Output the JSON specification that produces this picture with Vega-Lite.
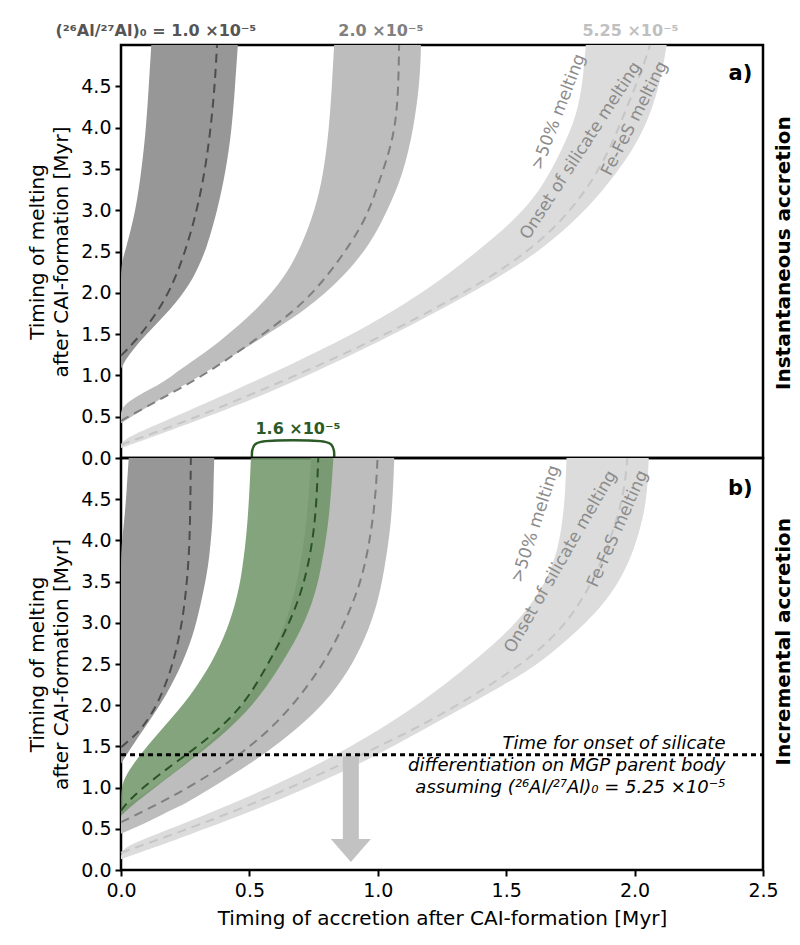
{
  "$schema": "https://vega.github.io/schema/vega-lite/v6.json",
  "padding": {"left": 26, "top": 21, "right": 5, "bottom": 5},
  "spacing": 0,
  "bounds": "flush",
  "config": {
    "font": "DejaVu Sans",
    "view": {"stroke": "black", "strokeWidth": 2.5},
    "axis": {"labelFontSize": 19, "labelColor": "black", "tickColor": "black", "tickSize": 6, "tickWidth": 2, "domain": false, "grid": false, "titleFontSize": 20, "titleFontWeight": "normal", "titleColor": "black", "labelPadding": 4, "labelFlush": false, "labelOverlap": false},
    "concat": {"spacing": 0}
  },
  "datasets": {
    "bands": [
      {"p":"a","s":"dark","y":1.08,"x":0,"x2":0},
      {"p":"a","s":"dark","y":1.24,"x":0,"x2":0.026},
      {"p":"a","s":"dark","y":1.52,"x":0,"x2":0.104},
      {"p":"a","s":"dark","y":1.80,"x":0,"x2":0.195},
      {"p":"a","s":"dark","y":2.12,"x":0,"x2":0.272},
      {"p":"a","s":"dark","y":2.34,"x":0,"x2":0.305},
      {"p":"a","s":"dark","y":2.52,"x":0.018,"x2":0.331},
      {"p":"a","s":"dark","y":3.0,"x":0.058,"x2":0.376},
      {"p":"a","s":"dark","y":3.49,"x":0.080,"x2":0.409},
      {"p":"a","s":"dark","y":3.97,"x":0.097,"x2":0.431},
      {"p":"a","s":"dark","y":4.49,"x":0.108,"x2":0.444},
      {"p":"a","s":"dark","y":5.0,"x":0.118,"x2":0.455},

      {"p":"a","s":"mid","y":0.42,"x":0,"x2":0},
      {"p":"a","s":"mid","y":0.5,"x":0,"x2":0.04},
      {"p":"a","s":"mid","y":0.65,"x":0,"x2":0.12},
      {"p":"a","s":"mid","y":0.875,"x":0.143,"x2":0.24},
      {"p":"a","s":"mid","y":1.0,"x":0.2,"x2":0.31},
      {"p":"a","s":"mid","y":1.16,"x":0.272,"x2":0.395},
      {"p":"a","s":"mid","y":1.40,"x":0.382,"x2":0.52},
      {"p":"a","s":"mid","y":1.80,"x":0.532,"x2":0.726},
      {"p":"a","s":"mid","y":2.20,"x":0.642,"x2":0.869},
      {"p":"a","s":"mid","y":2.60,"x":0.707,"x2":0.973},
      {"p":"a","s":"mid","y":3.0,"x":0.755,"x2":1.038},
      {"p":"a","s":"mid","y":3.41,"x":0.787,"x2":1.096},
      {"p":"a","s":"mid","y":4.0,"x":0.811,"x2":1.141},
      {"p":"a","s":"mid","y":4.6,"x":0.823,"x2":1.165},
      {"p":"a","s":"mid","y":5.0,"x":0.830,"x2":1.168},

      {"p":"a","s":"light","y":0.12,"x":0,"x2":0},
      {"p":"a","s":"light","y":0.22,"x":0,"x2":0.09},
      {"p":"a","s":"light","y":0.40,"x":0.136,"x2":0.25},
      {"p":"a","s":"light","y":0.69,"x":0.35,"x2":0.5},
      {"p":"a","s":"light","y":1.03,"x":0.592,"x2":0.75},
      {"p":"a","s":"light","y":1.40,"x":0.842,"x2":1.0},
      {"p":"a","s":"light","y":1.80,"x":1.077,"x2":1.25},
      {"p":"a","s":"light","y":2.24,"x":1.282,"x2":1.5},
      {"p":"a","s":"light","y":2.50,"x":1.385,"x2":1.625},
      {"p":"a","s":"light","y":2.82,"x":1.512,"x2":1.75},
      {"p":"a","s":"light","y":3.22,"x":1.632,"x2":1.875},
      {"p":"a","s":"light","y":3.75,"x":1.72,"x2":2.0},
      {"p":"a","s":"light","y":4.15,"x":1.775,"x2":2.06},
      {"p":"a","s":"light","y":4.55,"x":1.798,"x2":2.1},
      {"p":"a","s":"light","y":5.0,"x":1.81,"x2":2.125},

      {"p":"b","s":"dark","y":1.29,"x":0,"x2":0},
      {"p":"b","s":"dark","y":1.61,"x":0,"x2":0.065},
      {"p":"b","s":"dark","y":2.01,"x":0,"x2":0.156},
      {"p":"b","s":"dark","y":2.42,"x":0,"x2":0.227},
      {"p":"b","s":"dark","y":2.82,"x":0,"x2":0.279},
      {"p":"b","s":"dark","y":3.23,"x":0,"x2":0.311},
      {"p":"b","s":"dark","y":3.63,"x":0,"x2":0.337},
      {"p":"b","s":"dark","y":3.9,"x":0,"x2":0.347},
      {"p":"b","s":"dark","y":4.24,"x":0.013,"x2":0.357},
      {"p":"b","s":"dark","y":4.6,"x":0.022,"x2":0.36},
      {"p":"b","s":"dark","y":5.0,"x":0.03,"x2":0.363},

      {"p":"b","s":"mid","y":0.44,"x":0,"x2":0},
      {"p":"b","s":"mid","y":0.60,"x":0,"x2":0.117},
      {"p":"b","s":"mid","y":0.75,"x":0,"x2":0.21},
      {"p":"b","s":"mid","y":0.80,"x":0.027,"x2":0.246},
      {"p":"b","s":"mid","y":0.9,"x":0.08,"x2":0.30},
      {"p":"b","s":"mid","y":1.21,"x":0.22,"x2":0.467},
      {"p":"b","s":"mid","y":1.61,"x":0.37,"x2":0.649},
      {"p":"b","s":"mid","y":2.01,"x":0.48,"x2":0.791},
      {"p":"b","s":"mid","y":2.42,"x":0.56,"x2":0.888},
      {"p":"b","s":"mid","y":2.82,"x":0.62,"x2":0.953},
      {"p":"b","s":"mid","y":3.23,"x":0.665,"x2":0.999},
      {"p":"b","s":"mid","y":3.63,"x":0.695,"x2":1.025},
      {"p":"b","s":"mid","y":4.24,"x":0.725,"x2":1.055},
      {"p":"b","s":"mid","y":5.0,"x":0.74,"x2":1.064},

      {"p":"b","s":"green","y":0.66,"x":0,"x2":0},
      {"p":"b","s":"green","y":0.84,"x":0,"x2":0.065},
      {"p":"b","s":"green","y":1.0,"x":0,"x2":0.132},
      {"p":"b","s":"green","y":1.21,"x":0.026,"x2":0.22},
      {"p":"b","s":"green","y":1.61,"x":0.130,"x2":0.389},
      {"p":"b","s":"green","y":2.01,"x":0.246,"x2":0.519},
      {"p":"b","s":"green","y":2.42,"x":0.337,"x2":0.609},
      {"p":"b","s":"green","y":2.82,"x":0.402,"x2":0.687},
      {"p":"b","s":"green","y":3.23,"x":0.447,"x2":0.746},
      {"p":"b","s":"green","y":3.63,"x":0.473,"x2":0.778},
      {"p":"b","s":"green","y":4.24,"x":0.495,"x2":0.811},
      {"p":"b","s":"green","y":5.0,"x":0.506,"x2":0.827},

      {"p":"b","s":"light","y":0.13,"x":0,"x2":0},
      {"p":"b","s":"light","y":0.27,"x":0,"x2":0.125},
      {"p":"b","s":"light","y":0.41,"x":0.119,"x2":0.25},
      {"p":"b","s":"light","y":0.70,"x":0.354,"x2":0.5},
      {"p":"b","s":"light","y":1.03,"x":0.60,"x2":0.75},
      {"p":"b","s":"light","y":1.39,"x":0.839,"x2":1.0},
      {"p":"b","s":"light","y":1.83,"x":1.076,"x2":1.25},
      {"p":"b","s":"light","y":2.26,"x":1.265,"x2":1.5},
      {"p":"b","s":"light","y":2.50,"x":1.359,"x2":1.625},
      {"p":"b","s":"light","y":2.82,"x":1.484,"x2":1.75},
      {"p":"b","s":"light","y":3.20,"x":1.595,"x2":1.875},
      {"p":"b","s":"light","y":3.55,"x":1.663,"x2":1.95},
      {"p":"b","s":"light","y":3.9,"x":1.703,"x2":2.0},
      {"p":"b","s":"light","y":4.3,"x":1.722,"x2":2.035},
      {"p":"b","s":"light","y":4.6,"x":1.73,"x2":2.05},
      {"p":"b","s":"light","y":5.0,"x":1.735,"x2":2.055}
    ],
    "curves": [
      {"p":"a","s":"dark","x":0,"y":1.24},
      {"p":"a","s":"dark","x":0.052,"y":1.40},
      {"p":"a","s":"dark","x":0.123,"y":1.68},
      {"p":"a","s":"dark","x":0.195,"y":2.04},
      {"p":"a","s":"dark","x":0.253,"y":2.52},
      {"p":"a","s":"dark","x":0.296,"y":3.0},
      {"p":"a","s":"dark","x":0.328,"y":3.49},
      {"p":"a","s":"dark","x":0.350,"y":4.01},
      {"p":"a","s":"dark","x":0.365,"y":4.5},
      {"p":"a","s":"dark","x":0.374,"y":5.0},

      {"p":"a","s":"mid","x":0,"y":0.45},
      {"p":"a","s":"mid","x":0.130,"y":0.675},
      {"p":"a","s":"mid","x":0.324,"y":1.0},
      {"p":"a","s":"mid","x":0.5,"y":1.38},
      {"p":"a","s":"mid","x":0.687,"y":1.80},
      {"p":"a","s":"mid","x":0.804,"y":2.20},
      {"p":"a","s":"mid","x":0.895,"y":2.60},
      {"p":"a","s":"mid","x":0.957,"y":2.92},
      {"p":"a","s":"mid","x":0.999,"y":3.29},
      {"p":"a","s":"mid","x":1.057,"y":3.81},
      {"p":"a","s":"mid","x":1.079,"y":4.29},
      {"p":"a","s":"mid","x":1.083,"y":5.0},

      {"p":"a","s":"light","x":0,"y":0.16},
      {"p":"a","s":"light","x":0.25,"y":0.44},
      {"p":"a","s":"light","x":0.5,"y":0.76},
      {"p":"a","s":"light","x":0.75,"y":1.09},
      {"p":"a","s":"light","x":1.0,"y":1.45},
      {"p":"a","s":"light","x":1.25,"y":1.85},
      {"p":"a","s":"light","x":1.5,"y":2.30},
      {"p":"a","s":"light","x":1.686,"y":2.76},
      {"p":"a","s":"light","x":1.816,"y":3.25},
      {"p":"a","s":"light","x":1.907,"y":3.75},
      {"p":"a","s":"light","x":1.97,"y":4.25},
      {"p":"a","s":"light","x":2.03,"y":4.7},
      {"p":"a","s":"light","x":2.06,"y":5.0},

      {"p":"b","s":"dark","x":0,"y":1.49},
      {"p":"b","s":"dark","x":0.078,"y":1.69},
      {"p":"b","s":"dark","x":0.143,"y":2.01},
      {"p":"b","s":"dark","x":0.195,"y":2.42},
      {"p":"b","s":"dark","x":0.227,"y":2.82},
      {"p":"b","s":"dark","x":0.249,"y":3.23},
      {"p":"b","s":"dark","x":0.266,"y":3.83},
      {"p":"b","s":"dark","x":0.27,"y":4.4},
      {"p":"b","s":"dark","x":0.272,"y":5.0},

      {"p":"b","s":"green","x":0,"y":0.72},
      {"p":"b","s":"green","x":0.039,"y":0.88},
      {"p":"b","s":"green","x":0.168,"y":1.21},
      {"p":"b","s":"green","x":0.350,"y":1.61},
      {"p":"b","s":"green","x":0.48,"y":2.01},
      {"p":"b","s":"green","x":0.558,"y":2.42},
      {"p":"b","s":"green","x":0.629,"y":2.82},
      {"p":"b","s":"green","x":0.687,"y":3.23},
      {"p":"b","s":"green","x":0.726,"y":3.63},
      {"p":"b","s":"green","x":0.759,"y":4.24},
      {"p":"b","s":"green","x":0.768,"y":5.0},

      {"p":"b","s":"mid","x":0,"y":0.58},
      {"p":"b","s":"mid","x":0.065,"y":0.68},
      {"p":"b","s":"mid","x":0.195,"y":0.88},
      {"p":"b","s":"mid","x":0.376,"y":1.21},
      {"p":"b","s":"mid","x":0.5,"y":1.49},
      {"p":"b","s":"mid","x":0.616,"y":1.81},
      {"p":"b","s":"mid","x":0.726,"y":2.22},
      {"p":"b","s":"mid","x":0.811,"y":2.62},
      {"p":"b","s":"mid","x":0.875,"y":3.03},
      {"p":"b","s":"mid","x":0.927,"y":3.43},
      {"p":"b","s":"mid","x":0.96,"y":3.83},
      {"p":"b","s":"mid","x":0.99,"y":4.44},
      {"p":"b","s":"mid","x":0.999,"y":5.0},

      {"p":"b","s":"light","x":0,"y":0.21},
      {"p":"b","s":"light","x":0.5,"y":0.76},
      {"p":"b","s":"light","x":1.0,"y":1.49},
      {"p":"b","s":"light","x":1.232,"y":1.85},
      {"p":"b","s":"light","x":1.5,"y":2.36},
      {"p":"b","s":"light","x":1.686,"y":2.80},
      {"p":"b","s":"light","x":1.816,"y":3.35},
      {"p":"b","s":"light","x":1.907,"y":4.0},
      {"p":"b","s":"light","x":1.959,"y":4.56},
      {"p":"b","s":"light","x":1.972,"y":5.0}
    ],
    "vlines": [{"x":0.5},{"x":1.0},{"x":1.5},{"x":2.0}]
  },
  "vconcat": [
    {
      "width": 642,
      "height": 413,
      "encoding": {
        "x": {"field":"x","type":"quantitative","scale":{"domain":[0,2.5],"nice":false,"zero":false},"axis":null},
        "y": {"field":"y","type":"quantitative","scale":{"domain":[0,5],"nice":false,"zero":false},
              "axis":{"values":[0,0.5,1,1.5,2,2.5,3,3.5,4,4.5],"format":".1f","title":["Timing of melting","after CAI-formation [Myr]"],"titlePadding":9,"titleLineHeight":24}}
      },
      "layer": [
        {"data":{"name":"bands"},"transform":[{"filter":"datum.p=='a' && datum.s=='light'"}],
         "mark":{"type":"area","orient":"horizontal","interpolate":"basis","color":"#dcdcdc"},
         "encoding":{"x2":{"field":"x2"}}},
        {"data":{"name":"bands"},"transform":[{"filter":"datum.p=='a' && datum.s=='mid'"}],
         "mark":{"type":"area","orient":"horizontal","interpolate":"basis","color":"#bdbdbd"},
         "encoding":{"x2":{"field":"x2"}}},
        {"data":{"name":"bands"},"transform":[{"filter":"datum.p=='a' && datum.s=='dark'"}],
         "mark":{"type":"area","orient":"horizontal","interpolate":"basis","color":"#979797"},
         "encoding":{"x2":{"field":"x2"}}},
        {"data":{"name":"vlines"},
         "mark":{"type":"rule","color":"#c3c3c3","strokeDash":[8,6],"strokeWidth":2},
         "encoding":{"y":{"datum":0},"y2":{"datum":5}}},
        {"data":{"name":"curves"},"transform":[{"filter":"datum.p=='a'"}],
         "mark":{"type":"line","strokeDash":[9,6],"strokeWidth":2,"interpolate":"basis"},
         "encoding":{"color":{"field":"s","type":"nominal","scale":{"domain":["light","mid","dark","green"],"range":["#c6c6c6","#7f7f7f","#4d4d4d","#2b5426"]},"legend":null},
                     "order":{"field":"y","type":"quantitative"}}},
        {"data":{"values":[{"x":0.51,"y":0.0,"i":0},{"x":0.511,"y":0.09,"i":1},{"x":0.521,"y":0.163,"i":2},{"x":0.545,"y":0.195,"i":3},{"x":0.795,"y":0.195,"i":4},{"x":0.819,"y":0.163,"i":5},{"x":0.829,"y":0.09,"i":6},{"x":0.83,"y":0.0,"i":7}]},
         "mark":{"type":"line","color":"#2b5a26","strokeWidth":2.5,"interpolate":"catmull-rom","strokeCap":"round"},
         "encoding":{"order":{"field":"i","type":"quantitative"}}},
        {"data":{"values":[{"x":0.689,"y":0.35,"t":"1.6 ×10⁻⁵"}]},
         "mark":{"type":"text","fontSize":16,"fontWeight":"bold","color":"#2b5a26","baseline":"middle"},
         "encoding":{"text":{"field":"t"}}},
        {"data":{"values":[{"x":1.704,"y":4.19,"t":">50% melting"}]},
         "mark":{"type":"text","angle":291,"fontSize":17,"color":"#8c8c8c","baseline":"middle"},
         "encoding":{"text":{"field":"t"}}},
        {"data":{"values":[{"x":1.79,"y":3.72,"t":"Onset of silicate melting"}]},
         "mark":{"type":"text","angle":303,"fontSize":17,"color":"#8c8c8c","baseline":"middle"},
         "encoding":{"text":{"field":"t"}}},
        {"data":{"values":[{"x":2.0,"y":4.11,"t":"Fe-FeS melting"}]},
         "mark":{"type":"text","angle":297,"fontSize":17,"color":"#8c8c8c","baseline":"middle"},
         "encoding":{"text":{"field":"t"}}},
        {"data":{"values":[{"x":0.136,"y":5.17,"t":"(²⁶Al/²⁷Al)₀ = 1.0 ×10⁻⁵"}]},
         "mark":{"type":"text","fontSize":16,"fontWeight":"bold","color":"#555555","baseline":"middle"},
         "encoding":{"text":{"field":"t"}}},
        {"data":{"values":[{"x":1.012,"y":5.17,"t":"2.0 ×10⁻⁵"}]},
         "mark":{"type":"text","fontSize":16,"fontWeight":"bold","color":"#808080","baseline":"middle"},
         "encoding":{"text":{"field":"t"}}},
        {"data":{"values":[{"x":1.984,"y":5.17,"t":"5.25 ×10⁻⁵"}]},
         "mark":{"type":"text","fontSize":16,"fontWeight":"bold","color":"#c0c0c0","baseline":"middle"},
         "encoding":{"text":{"field":"t"}}},
        {"data":{"values":[{"x":2.412,"y":4.65,"t":"a)"}]},
         "mark":{"type":"text","fontSize":21,"fontWeight":"bold","color":"black","baseline":"middle"},
         "encoding":{"text":{"field":"t"}}},
        {"data":{"values":[{"x":2.58,"y":2.48,"t":"Instantaneous accretion"}]},
         "mark":{"type":"text","angle":270,"fontSize":20,"fontWeight":"bold","color":"black","baseline":"middle"},
         "encoding":{"text":{"field":"t"}}}
      ]
    },
    {
      "width": 642,
      "height": 412,
      "encoding": {
        "x": {"field":"x","type":"quantitative","scale":{"domain":[0,2.5],"nice":false,"zero":false},
              "axis":{"values":[0,0.5,1,1.5,2,2.5],"format":".1f","title":"Timing of accretion after CAI-formation [Myr]","titlePadding":8,"labelPadding":5}},
        "y": {"field":"y","type":"quantitative","scale":{"domain":[0,5],"nice":false,"zero":false},
              "axis":{"values":[0,0.5,1,1.5,2,2.5,3,3.5,4,4.5],"format":".1f","title":["Timing of melting","after CAI-formation [Myr]"],"titlePadding":9,"titleLineHeight":24}}
      },
      "layer": [
        {"data":{"name":"bands"},"transform":[{"filter":"datum.p=='b' && datum.s=='light'"}],
         "mark":{"type":"area","orient":"horizontal","interpolate":"basis","color":"#dcdcdc"},
         "encoding":{"x2":{"field":"x2"}}},
        {"data":{"name":"bands"},"transform":[{"filter":"datum.p=='b' && datum.s=='mid'"}],
         "mark":{"type":"area","orient":"horizontal","interpolate":"basis","color":"#bdbdbd"},
         "encoding":{"x2":{"field":"x2"}}},
        {"data":{"name":"bands"},"transform":[{"filter":"datum.p=='b' && datum.s=='dark'"}],
         "mark":{"type":"area","orient":"horizontal","interpolate":"basis","color":"#979797"},
         "encoding":{"x2":{"field":"x2"}}},
        {"data":{"name":"bands"},"transform":[{"filter":"datum.p=='b' && datum.s=='green'"}],
         "mark":{"type":"area","orient":"horizontal","interpolate":"basis","color":"#6f9466","opacity":0.85},
         "encoding":{"x2":{"field":"x2"}}},
        {"data":{"name":"vlines"},
         "mark":{"type":"rule","color":"#c3c3c3","strokeDash":[8,6],"strokeWidth":2},
         "encoding":{"y":{"datum":0},"y2":{"datum":5}}},
        {"data":{"name":"curves"},"transform":[{"filter":"datum.p=='b'"}],
         "mark":{"type":"line","strokeDash":[9,6],"strokeWidth":2,"interpolate":"basis"},
         "encoding":{"color":{"field":"s","type":"nominal","scale":{"domain":["light","mid","dark","green"],"range":["#c6c6c6","#7f7f7f","#4d4d4d","#2b5426"]},"legend":null},
                     "order":{"field":"y","type":"quantitative"}}},
        {"data":{"values":[{"x":0.895,"y":1.38,"y2":0.37}]},
         "mark":{"type":"rule","color":"#c2c2c2","strokeWidth":16},
         "encoding":{"y2":{"field":"y2"}}},
        {"data":{"values":[{"x":0.895,"y":0.237}]},
         "mark":{"type":"point","shape":"M-1,-0.575L1,-0.575L0,0.575Z","size":1600,"filled":true,"color":"#c2c2c2","opacity":1,"strokeWidth":0}},
        {"data":{"values":[{"x":0,"y":1.4},{"x":2.5,"y":1.4}]},
         "mark":{"type":"line","color":"black","strokeDash":[5,4],"strokeWidth":3}},
        {"data":{"values":[{"x":2.354,"y":1.53,"t":"Time for onset of silicate"},{"x":2.354,"y":1.26,"t":"differentiation on MGP parent body"},{"x":2.354,"y":1.0,"t":"assuming (²⁶Al/²⁷Al)₀ = 5.25 ×10⁻⁵"}]},
         "mark":{"type":"text","align":"right","fontStyle":"italic","fontSize":18,"color":"black","baseline":"middle"},
         "encoding":{"text":{"field":"t"}}},
        {"data":{"values":[{"x":1.615,"y":4.2,"t":">50% melting"}]},
         "mark":{"type":"text","angle":288,"fontSize":17,"color":"#8c8c8c","baseline":"middle"},
         "encoding":{"text":{"field":"t"}}},
        {"data":{"values":[{"x":1.712,"y":3.74,"t":"Onset of silicate melting"}]},
         "mark":{"type":"text","angle":300,"fontSize":17,"color":"#8c8c8c","baseline":"middle"},
         "encoding":{"text":{"field":"t"}}},
        {"data":{"values":[{"x":1.934,"y":4.14,"t":"Fe-FeS melting"}]},
         "mark":{"type":"text","angle":294,"fontSize":17,"color":"#8c8c8c","baseline":"middle"},
         "encoding":{"text":{"field":"t"}}},
        {"data":{"values":[{"x":2.412,"y":4.62,"t":"b)"}]},
         "mark":{"type":"text","fontSize":21,"fontWeight":"bold","color":"black","baseline":"middle"},
         "encoding":{"text":{"field":"t"}}},
        {"data":{"values":[{"x":2.58,"y":2.77,"t":"Incremental accretion"}]},
         "mark":{"type":"text","angle":270,"fontSize":20,"fontWeight":"bold","color":"black","baseline":"middle"},
         "encoding":{"text":{"field":"t"}}}
      ]
    }
  ]
}
